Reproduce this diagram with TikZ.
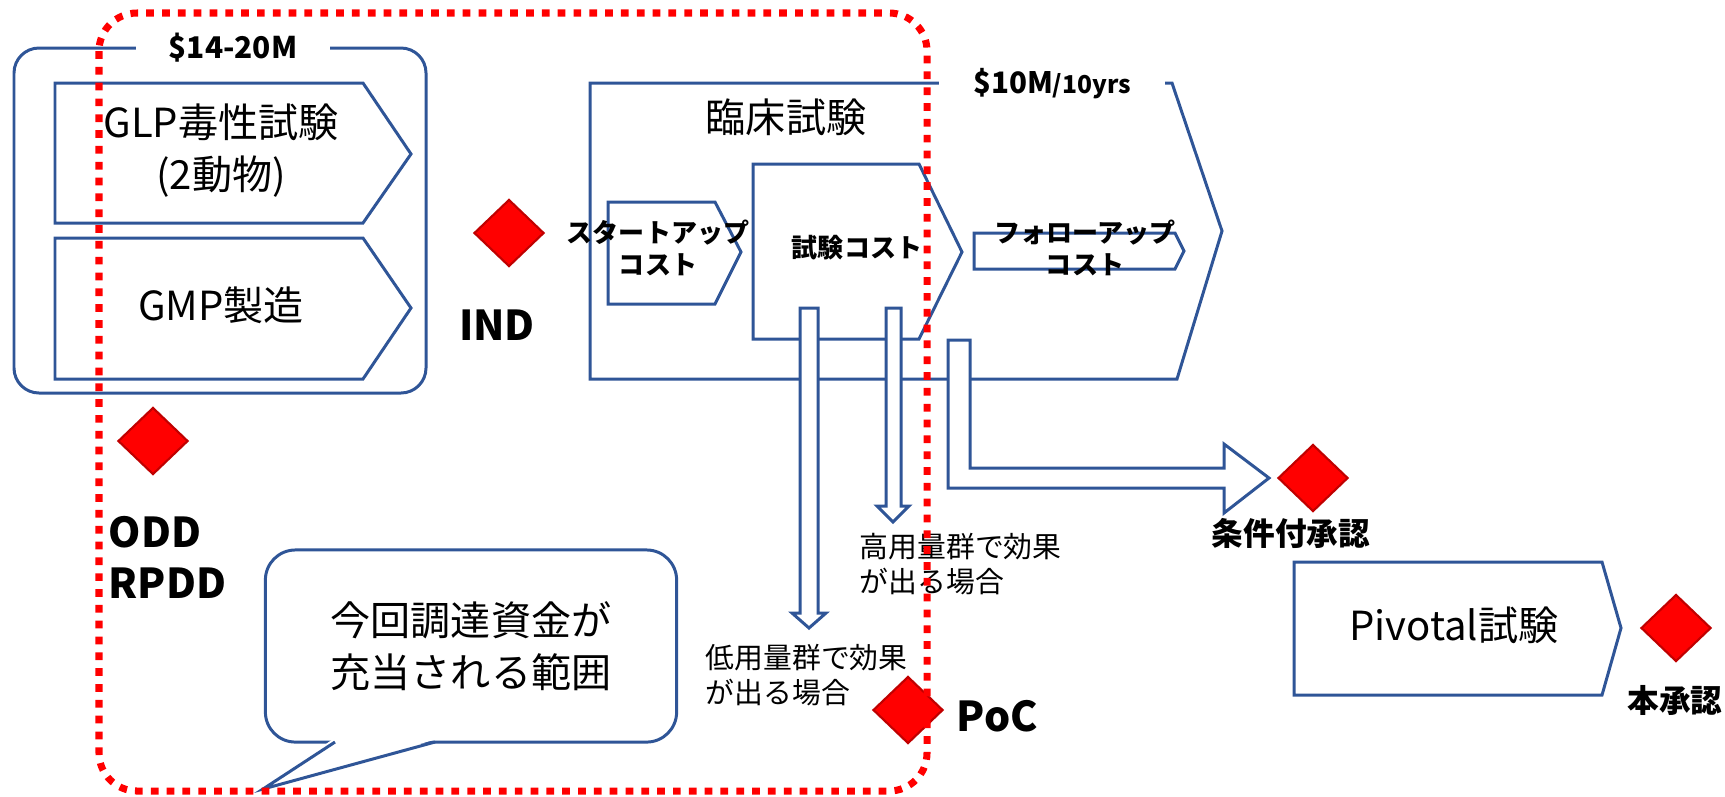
\documentclass[tikz,border=0pt]{standalone}
\usepackage{fontspec}
\setmainfont{Noto Sans CJK JP}
\usetikzlibrary{shapes.geometric}
\definecolor{pblue}{RGB}{47,85,151}
\definecolor{ddred}{RGB}{192,0,0}
\newcommand{\fsz}[2]{\fontsize{#1}{#2}\selectfont}

\begin{document}
\begin{tikzpicture}[x=0.01cm, y=-0.01cm,
	blueln/.style={draw=pblue, line width=0.85pt},
	milestone/.style={diamond, fill=red, draw=ddred, line width=0.6pt, minimum width=0.7cm, minimum height=0.67cm},
	fundarea/.style={draw=red, line width=2pt, dash pattern=on 2.2pt off 2.3pt, rounded corners=0.38cm},
	bigtxt/.style={font=\fsz{11.4}{14.8}, align=center},
	smalltxt/.style={font=\fsz{8.2}{10}, align=left, anchor=west},
	costtxt/.style={font=\fsz{7.4}{9.2}\bfseries, align=center},
	msttxt/.style={font=\fsz{11.7}{14.5}\bfseries, align=left},
	apptxt/.style={font=\fsz{9}{11}\bfseries}]
	\tikzstyle{every node}+=[inner sep=0pt]
	\useasboundingbox (0,0) rectangle (1725,796);
	\draw [blueln, rounded corners=0.25cm] (14,48) rectangle (426,393);
	\draw (233,48) node [fill=white, minimum width=1.93cm, font=\fsz{8.5}{10}\bfseries] (preclcost) {\$14-20M};
	\draw [blueln] (55,83) -- (363,83) -- (411,154) -- (363,223) -- (55,223) -- cycle;
	\draw (221,151) node [bigtxt] (glp) {GLP毒性試験\\(2動物)};
	\draw [blueln] (55,238) -- (363,238) -- (411,308) -- (363,379) -- (55,379) -- cycle;
	\draw (221,305) node [bigtxt] (gmp) {GMP製造};
	\draw (509,233) node [milestone] (ind) {};
	\draw (497,325) node [msttxt] (indlbl) {IND};
	\draw [blueln] (1172,83) -- (1222,231) -- (1177,379) -- (590,379) -- (590,83) -- cycle;
	\draw (1052,84) node [fill=white, minimum width=2.26cm] (clincost) {{\fsz{8.4}{10}\bfseries \$10M}{\fsz{7}{9}\bfseries /10yrs}};
	\draw (786,117) node [bigtxt] (clin) {臨床試験};
	\draw [blueln] (608,202) -- (715,202) -- (741,252) -- (715,304) -- (608,304) -- cycle;
	\draw (658,248) node [costtxt] (startup) {スタートアップ\\コスト};
	\draw [blueln] (753,164) -- (919,164) -- (962,252) -- (919,339) -- (753,339) -- cycle;
	\draw (857,248) node [costtxt] (trial) {試験コスト};
	\draw [blueln] (974,233) -- (1175,233) -- (1184,251) -- (1175,269) -- (974,269) -- cycle;
	\draw (1085,248) node [costtxt] (followup) {フォローアップ\\コスト};
	\draw [blueln, fill=white] (800,308) -- (800,613) -- (792,613) -- (809,628) -- (826,613) -- (818,613) -- (818,308) -- cycle;
	\draw [blueln, fill=white] (886,308) -- (886,506) -- (877,506) -- (893,522) -- (909,506) -- (901,506) -- (901,308) -- cycle;
	\draw [blueln, fill=white] (948,340) -- (948,488) -- (1224,488) -- (1224,513) -- (1269,478) -- (1224,444) -- (1224,468) -- (970,468) -- (970,340) -- cycle;
	\draw (859,564) node [smalltxt] (highdose) {高用量群で効果\\が出る場合};
	\draw (705,675) node [smalltxt] (lowdose) {低用量群で効果\\が出る場合};
	\draw (1313,478) node [milestone] (condappr) {};
	\draw (1291,533) node [apptxt] (condlbl) {条件付承認};
	\draw (153,441) node [milestone] (odd) {};
	\draw (108,557) node [msttxt, anchor=west] (oddlbl) {ODD\\RPDD};
	\draw (908,710) node [milestone] (poc) {};
	\draw (956,716) node [msttxt, anchor=west] (poclbl) {PoC};
	\draw (471,646) node [blueln, fill=white, rounded corners=0.3cm, minimum width=4.11cm, minimum height=1.92cm, bigtxt] (callout) {今回調達資金が\\充当される範囲};
	\fill [white] (333,739) -- (263,789) -- (437,739) -- cycle;
	\draw [blueln] (335,742) -- (263,789) -- (435,742);
	\draw [blueln] (1294,562) -- (1602,562) -- (1621,628) -- (1602,695) -- (1294,695) -- cycle;
	\draw (1454,625) node [bigtxt] (pivotal) {Pivotal試験};
	\draw (1676,628) node [milestone] (fullappr) {};
	\draw (1675,700) node [apptxt] (fulllbl) {本承認};
	\draw [fundarea] (99,13) rectangle (927,791);
\end{tikzpicture}
\end{document}
